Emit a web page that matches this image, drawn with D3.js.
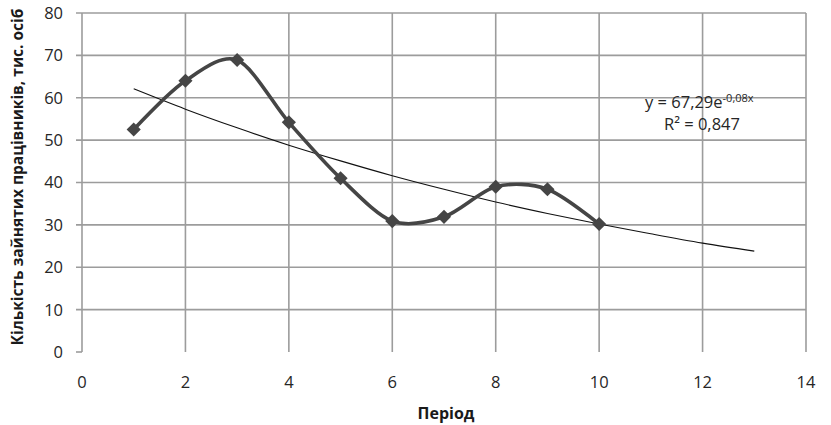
<!DOCTYPE html>
<html><head><meta charset="utf-8">
<script src="https://cdn.jsdelivr.net/npm/d3@7"></script>
<style>body{margin:0;background:#fff}text{font-family:"Open Sans","Liberation Sans",sans-serif}</style>
</head><body><svg id="c" width="831" height="425"></svg>
<script>
const periods = [1,2,3,4,5,6,7,8,9,10];
const workers = [52.5,64,68.9,54.2,41,30.9,31.9,39,38.4,30.2];
const trendX = [1,2,3,4,5,6,7,8,9,10,11,12,13];
const trendY = [62.1,57.3,52.9,48.8,45.1,41.6,38.4,35.4,32.7,30.2,27.9,25.7,23.8];
const xTicks = [0,2,4,6,8,10,12,14];
const yTicks = [0,10,20,30,40,50,60,70,80];
const xTitle = "Період";
const yTitle = "Кількість зайнятих працівників, тис. осіб";
const eqMain = "y = 67,29e", eqSup = "-0,08x", r2 = "R² = 0,847";

const svg = d3.select("#c");
const x = d3.scaleLinear().domain([0,14]).range([82,806]);
const y = d3.scaleLinear().domain([0,80]).range([352,13]);
const grid = "#9c9c9c";
const txt = "#262626";

svg.append("g").selectAll("line").data(yTicks.filter(d=>d>0)).join("line")
  .attr("x1",76).attr("x2",x(14)).attr("y1",d=>y(d)).attr("y2",d=>y(d))
  .attr("stroke",grid).attr("stroke-width",1.6);
svg.append("line").attr("x1",76).attr("x2",x(0)).attr("y1",y(0)).attr("y2",y(0))
  .attr("stroke",grid).attr("stroke-width",1.6);
svg.append("g").selectAll("line").data(xTicks).join("line")
  .attr("x1",d=>x(d)).attr("x2",d=>x(d)).attr("y1",y(80)).attr("y2",y(0))
  .attr("stroke",grid).attr("stroke-width",1.6);

svg.append("g").selectAll("text").data(yTicks).join("text")
  .attr("x",63).attr("y",d=>y(d)).attr("dy","0.36em").attr("text-anchor","end")
  .attr("font-size",16.5).attr("fill",txt).text(d=>d);
svg.append("g").selectAll("text").data(xTicks).join("text")
  .attr("x",d=>x(d)).attr("y",382).attr("dy","0.36em").attr("text-anchor","middle")
  .attr("font-size",16.5).attr("fill",txt).text(d=>d);

svg.append("text").attr("x",446).attr("y",413).attr("dy","0.36em").attr("text-anchor","middle")
  .attr("font-size",16).attr("font-weight","bold").attr("fill","#1a1a1a").text(xTitle);
svg.append("text").attr("transform","translate(17,177) rotate(-90)").attr("dy","0.36em")
  .attr("text-anchor","middle").attr("font-size",15.5).attr("font-weight","bold").attr("fill","#1a1a1a").text(yTitle);

svg.append("path").datum(trendX.map((d,i)=>[d,trendY[i]]))
  .attr("d",d3.line().x(d=>x(d[0])).y(d=>y(d[1])).curve(d3.curveNatural))
  .attr("fill","none").attr("stroke","#111").attr("stroke-width",1.1);

const pts = periods.map((d,i)=>[d,workers[i]]);
svg.append("path").datum(pts)
  .attr("d",d3.line().x(d=>x(d[0])).y(d=>y(d[1])).curve(d3.curveCardinal.tension(0.1)))
  .attr("fill","none").attr("stroke","#454545").attr("stroke-width",3.6);
svg.append("g").selectAll("path").data(pts).join("path")
  .attr("d",d3.symbol(d3.symbolSquare,100)())
  .attr("transform",d=>`translate(${x(d[0])},${y(d[1])}) rotate(45)`)
  .attr("fill","#454545");

const eq = svg.append("text").attr("x",645).attr("y",108).attr("font-size",16.5).attr("fill",txt);
eq.append("tspan").text(eqMain);
eq.append("tspan").attr("dy",-6).attr("font-size",11).text(eqSup);
svg.append("text").attr("x",664).attr("y",130).attr("font-size",16.5).attr("fill",txt).text(r2);
</script></body></html>
